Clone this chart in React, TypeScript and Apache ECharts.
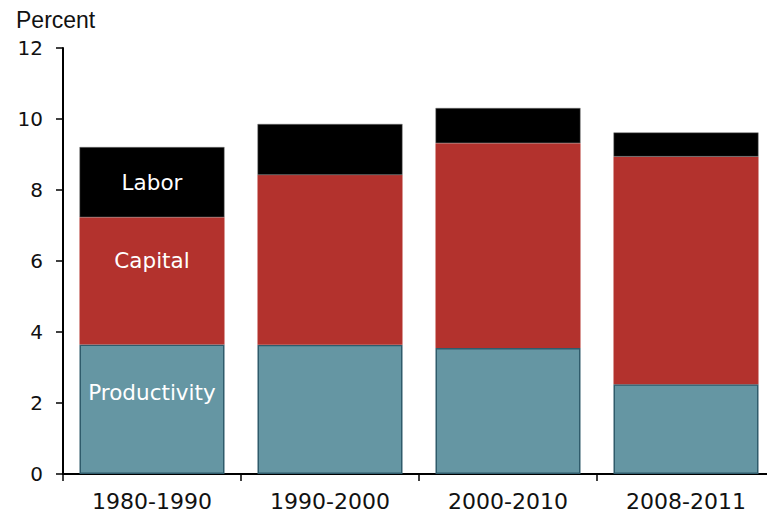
import React, { useEffect, useRef } from "react";
import * as echarts from "echarts";

const categories = ["1980-1990", "1990-2000", "2000-2010", "2008-2011"];
const productivity = [3.65, 3.64, 3.55, 2.53];
const capital = [3.58, 4.78, 5.77, 6.41];
const labor = [1.98, 1.44, 0.99, 0.68];
const yTicks = { min: 0, max: 12, interval: 2 };
const unitLabel = "Percent";

const FONT = "DejaVu Sans";

export default function App() {
  const ref = useRef<HTMLDivElement>(null);
  useEffect(() => {
    if (!ref.current) return;
    const chart = echarts.init(ref.current, null, { renderer: "svg" });
    const labelFor = (name: string) => (p: any) => (p.dataIndex === 0 ? name : "");
    chart.setOption({
      animation: false,
      grid: { left: 63, top: 48, bottom: 40, right: 10, containLabel: false },
      graphic: [
        {
          type: "text",
          left: 16,
          top: 8,
          style: { text: unitLabel, font: "23px 'Liberation Sans'", fill: "#111" },
        },
      ],
      xAxis: {
        type: "category",
        data: categories,
        axisLine: { show: true, lineStyle: { color: "#000", width: 2 } },
        axisTick: { show: true, length: 7, lineStyle: { color: "#000", width: 1.5 } },
        axisLabel: { fontFamily: FONT, fontSize: 22, color: "#111", margin: 16 },
      },
      yAxis: {
        type: "value",
        min: yTicks.min,
        max: yTicks.max,
        interval: yTicks.interval,
        splitLine: { show: false },
        axisLine: { show: true, lineStyle: { color: "#000", width: 2 } },
        axisTick: { show: true, length: 7, lineStyle: { color: "#000", width: 1.5 } },
        axisLabel: { fontFamily: FONT, fontSize: 20, color: "#111", margin: 20 },
      },
      series: [
        {
          name: "Productivity",
          type: "bar",
          stack: "total",
          barWidth: 145,
          data: productivity,
          itemStyle: { color: "#6596a3", borderColor: "#2f5b6b", borderWidth: 1.5 },
          label: {
            show: true,
            position: "inside",
            offset: [0, -17],
            formatter: labelFor("Productivity"),
            fontFamily: FONT,
            fontSize: 21.5,
            color: "#fff",
          },
        },
        {
          name: "Capital",
          type: "bar",
          stack: "total",
          barWidth: 145,
          data: capital,
          itemStyle: { color: "#b3322d" },
          label: {
            show: true,
            position: "inside",
            offset: [0, -20],
            formatter: labelFor("Capital"),
            fontFamily: FONT,
            fontSize: 21.5,
            color: "#fff",
          },
        },
        {
          name: "Labor",
          type: "bar",
          stack: "total",
          barWidth: 145,
          data: labor,
          itemStyle: { color: "#000000", borderColor: "#777", borderWidth: 0.5 },
          label: {
            show: true,
            position: "inside",
            formatter: labelFor("Labor"),
            fontFamily: FONT,
            fontSize: 21.5,
            color: "#fff",
          },
        },
      ],
    });
    return () => chart.dispose();
  }, []);
  return (
    <div
      style={{
        position: "fixed",
        left: 0,
        top: 0,
        width: 767,
        height: 514,
        overflow: "hidden",
        background: "#fff",
      }}
    >
      <div ref={ref} style={{ width: 785, height: 514 }} />
    </div>
  );
}
